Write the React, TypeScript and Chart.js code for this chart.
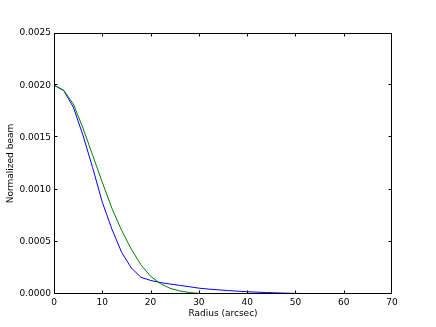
import React, { useEffect, useRef } from "react";
import { Chart, registerables } from "chart.js";

Chart.register(...registerables);

const radius = [0, 2, 4, 6, 8, 10, 12, 14, 16, 18, 20, 22, 24, 26, 28, 30, 32, 34, 36, 38, 40, 42, 44, 46, 48, 50, 52, 54];
const beamBlue = [0.002, 0.00195, 0.00179, 0.00152, 0.00121, 0.00088, 0.00062, 0.0004, 0.00025, 0.00016, 0.00013, 0.00011, 0.000096, 0.000083, 0.00007, 0.000056, 0.000047, 0.00004, 0.000033, 0.000027, 0.000022, 0.000018, 0.000014, 0.000011, 0.000008, 0.000006, 0.000004, 0.000002];
const beamGreen = [0.002, 0.00195, 0.00182, 0.00159, 0.00133, 0.00107, 0.00082, 0.00061, 0.00043, 0.00028, 0.00017, 0.0001, 0.000055, 0.00003, 0.000014, 0.000006, 0.000002, 0.000001, 0, 0, 0, 0, 0, 0, 0, 0];
const xTicks = [0, 10, 20, 30, 40, 50, 60, 70];
const yTicks = [0, 0.0005, 0.001, 0.0015, 0.002, 0.0025];

const FONT = "'DejaVu Sans', sans-serif";

const framePlugin = {
  id: "frame",
  afterDraw(chart: any) {
    const { ctx, chartArea } = chart;
    const { left, right, top, bottom } = chartArea;
    const xs = chart.scales.x;
    const ys = chart.scales.y;
    const tl = 3.5;
    const clamp = (v: number, a: number, b: number) => Math.min(Math.max(v, a), b);
    ctx.save();
    ctx.strokeStyle = "#000";
    ctx.lineWidth = 1;
    ctx.beginPath();
    for (const v of xTicks) {
      const px = clamp(Math.round(xs.getPixelForValue(v)) + 0.5, left + 0.5, right - 0.5);
      ctx.moveTo(px, bottom);
      ctx.lineTo(px, bottom - tl);
      ctx.moveTo(px, top);
      ctx.lineTo(px, top + tl);
    }
    for (const v of yTicks) {
      const py = clamp(Math.round(ys.getPixelForValue(v)) - 0.5, top + 0.5, bottom - 0.5);
      ctx.moveTo(left, py);
      ctx.lineTo(left + tl, py);
      ctx.moveTo(right, py);
      ctx.lineTo(right - tl, py);
    }
    ctx.stroke();
    ctx.strokeRect(left + 0.5, top + 0.5, right - left - 1, bottom - top - 1);
    ctx.restore();
  },
};

export default function App() {
  const ref = useRef<HTMLCanvasElement>(null);
  useEffect(() => {
    document.body.style.margin = "0";
    const canvas = ref.current!;
    const chart = new Chart(canvas, {
      type: "line",
      data: {
        datasets: [
          {
            label: "green",
            data: beamGreen.map((y, i) => ({ x: radius[i], y })),
            borderColor: "#008000",
            borderWidth: 1,
            pointRadius: 0,
            tension: 0,
            fill: false,
          },
          {
            label: "blue",
            data: beamBlue.map((y, i) => ({ x: radius[i], y })),
            borderColor: "#0000ff",
            borderWidth: 1,
            pointRadius: 0,
            tension: 0,
            fill: false,
          },
        ],
      },
      options: {
        animation: false,
        responsive: false,
        maintainAspectRatio: false,
        layout: { padding: { top: 33, right: 44, bottom: 0, left: 0 } },
        plugins: { legend: { display: false }, tooltip: { enabled: false } },
        scales: {
          x: {
            type: "linear",
            min: 0,
            max: 70,
            afterFit: (s: any) => {
              s.height = 33;
            },
            afterBuildTicks: (s: any) => {
              s.ticks = xTicks.map((v) => ({ value: v }));
            },
            grid: { display: false, drawTicks: false },
            border: { display: false },
            ticks: {
              color: "#000",
              font: { family: FONT, size: 9 },
              padding: 3,
              maxRotation: 0,
              callback: (v: any) => String(v),
            },
            title: {
              display: true,
              text: "Radius (arcsec)",
              color: "#000",
              font: { family: FONT, size: 9 },
              padding: { top: 0, bottom: 8 },
            },
          },
          y: {
            type: "linear",
            min: 0,
            max: 0.0025,
            afterFit: (s: any) => {
              s.width = 54;
            },
            afterBuildTicks: (s: any) => {
              s.ticks = yTicks.map((v) => ({ value: v }));
            },
            grid: { display: false, drawTicks: false },
            border: { display: false },
            ticks: {
              color: "#000",
              font: { family: FONT, size: 9 },
              padding: 3,
              callback: (v: any) => Number(v).toFixed(4),
            },
            title: {
              display: true,
              text: "Normalized beam",
              color: "#000",
              font: { family: FONT, size: 9 },
              padding: { top: 5.5, bottom: 0 },
            },
          },
        },
      },
      plugins: [framePlugin],
    });
    return () => chart.destroy();
  }, []);
  return (
    <div style={{ width: 436, height: 327, background: "#fff" }}>
      <canvas ref={ref} width={436} height={327} style={{ display: "block" }} />
    </div>
  );
}
